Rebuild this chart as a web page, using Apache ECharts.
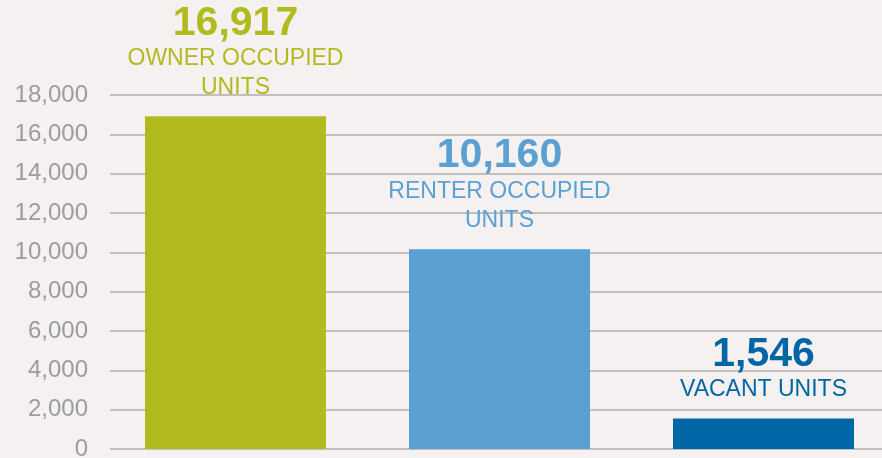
<!DOCTYPE html>
<html>
<head>
<meta charset="utf-8">
<script src="https://cdn.jsdelivr.net/npm/echarts@6/dist/echarts.min.js"></script>
<style>
html,body{margin:0;padding:0;background:#f5f1f0;overflow:hidden;width:882px;height:458px;}
#c{width:900px;height:458px;}
</style>
</head>
<body>
<div id="c"></div>
<script>
const categories = ['OWNER OCCUPIED\nUNITS', 'RENTER OCCUPIED\nUNITS', 'VACANT UNITS'];
const values = [16917, 10160, 1546];
const barColors = ['#b1ba1e', '#5aa0d3', '#0066a6'];
const yTicks = [0, 2000, 4000, 6000, 8000, 10000, 12000, 14000, 16000, 18000];

const FONT = 'Liberation Sans';
const chart = echarts.init(document.getElementById('c'));
const fmt = v => v.toLocaleString('en-US');

const data = values.map((v, i) => ({
  value: v,
  itemStyle: { color: barColors[i] },
  label: {
    color: barColors[i],
    rich: {
      n: { fontFamily: FONT, fontWeight: 'bold', fontSize: 41, lineHeight: 42, color: barColors[i], align: 'center' },
      c: { fontFamily: FONT, fontSize: 23, lineHeight: 29, color: barColors[i], align: 'center' }
    }
  }
}));

chart.setOption({
  backgroundColor: '#f5f1f0',
  animation: false,
  grid: [
    { left: 110, right: 18, top: 95, height: 354, containLabel: false, outerBoundsMode: 'none' },
    { left: 103.5, width: 792, top: 95, height: 354, containLabel: false, outerBoundsMode: 'none' }
  ],
  xAxis: [
    { type: 'category', gridIndex: 0, data: [''], show: false },
    { type: 'category', gridIndex: 1, data: categories, show: false }
  ],
  yAxis: [
    {
      type: 'value', gridIndex: 0, min: yTicks[0], max: yTicks[yTicks.length - 1], interval: 2000,
      axisLine: { show: false }, axisTick: { show: false },
      axisLabel: { formatter: v => fmt(v), fontFamily: FONT, fontSize: 24, color: '#9c9c9c', margin: 22 },
      splitLine: { lineStyle: { color: '#c0bebe', width: 2 } }
    },
    {
      type: 'value', gridIndex: 1, min: yTicks[0], max: yTicks[yTicks.length - 1], interval: 2000,
      show: false, splitLine: { show: false }
    }
  ],
  series: [{
    type: 'bar',
    xAxisIndex: 1, yAxisIndex: 1,
    barWidth: 181,
    data: data,
    label: {
      show: true,
      position: 'top',
      distance: 14,
      formatter: p => '{n|' + fmt(p.value) + '}\n' + categories[p.dataIndex].split('\n').map(s => '{c|' + s + '}').join('\n')
    }
  }]
});
</script>
</body>
</html>
